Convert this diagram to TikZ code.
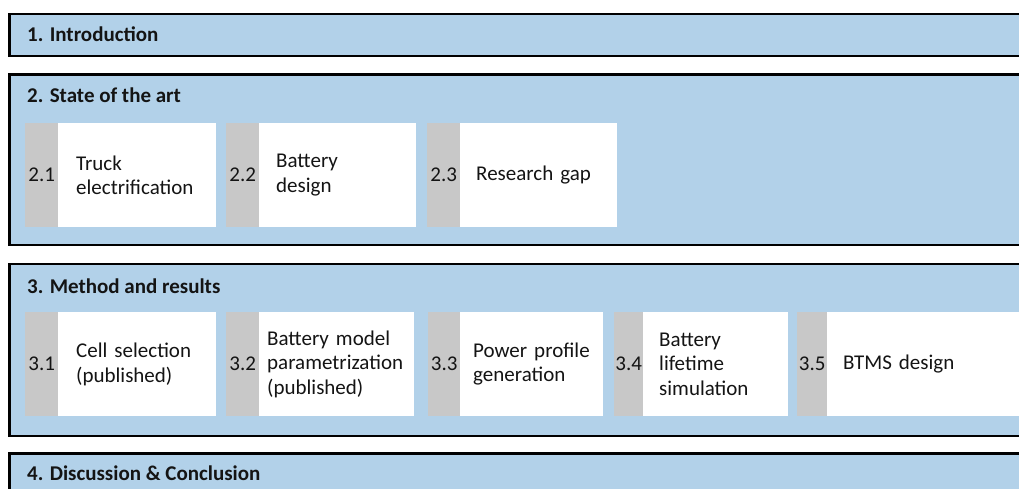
\documentclass[tikz,border=0pt]{standalone}
\usepackage{fontspec}
\setmainfont{Carlito}
\definecolor{panelblue}{RGB}{178,209,233}
\definecolor{numgray}{RGB}{200,200,200}
\definecolor{txtblack}{RGB}{20,20,20}
\tikzset{
  panel/.style={fill=panelblue, draw=black, line width=2.4pt},
  ptitle/.style={anchor=base west, inner sep=0pt, text=txtblack, font=\fontsize{21}{24.5}\selectfont\bfseries},
  numbox/.style={anchor=north west, fill=numgray, minimum height=104pt, inner sep=0pt, text=txtblack, font=\fontsize{21}{24.5}\selectfont},
  txtbox/.style 2 args={anchor=north west, fill=white, minimum height=104pt, inner ysep=0pt, inner xsep=#2, text width={#1-2*#2}, align=left, text=txtblack, font=\fontsize{21}{24.5}\selectfont}
}
\begin{document}
\begin{tikzpicture}[x=1pt,y=-1pt]
\clip (0,0) rectangle (1019,489);
\fill[white] (0,0) rectangle (1019,489);
% panels
\draw[panel] (9.5,14) rectangle (1040,56);
\draw[panel] (9.5,74.5) rectangle (1040,245);
\draw[panel] (9.5,264) rectangle (1040,436);
\draw[panel] (9.5,453.5) rectangle (1040,520);
\node[ptitle] (p1) at (27,41.5) {1. Introduction};
\node[ptitle] (p2) at (27,102.5) {2. State of the art};
\node[ptitle] (p3) at (27,293.5) {3. Method and results};
\node[ptitle] (p4) at (27,480) {4. Discussion \& Conclusion};
% section 2 boxes
\node[numbox, minimum width=33pt] (n21) at (25,123) {2.1};
\node[txtbox={158pt}{18pt}] (t21) at (58,123) {Truck\\electrification};
\node[numbox, minimum width=33pt] (n22) at (226,123) {2.2};
\node[txtbox={157pt}{17pt}] (t22) at (259,123) {Battery\\design};
\node[numbox, minimum width=33pt] (n23) at (427,123) {2.3};
\node[txtbox={157pt}{16pt}] (t23) at (460,123) {Research gap};
% section 3 boxes
\node[numbox, minimum width=33pt] (n31) at (25,312) {3.1};
\node[txtbox={158pt}{18pt}] (t31) at (58,312) {Cell selection\\(published)};
\node[numbox, minimum width=33pt] (n32) at (226,312) {3.2};
\node[txtbox={155pt}{8pt}] (t32) at (259,312) {Battery model\\parametrization\\(published)};
\node[numbox, minimum width=32pt] (n33) at (428,312) {3.3};
\node[txtbox={143pt}{13pt}] (t33) at (460,312) {Power profile\\generation};
\node[numbox, minimum width=29pt] (n34) at (614,312) {3.4};
\node[txtbox={145pt}{16pt}] (t34) at (643,312) {Battery\\lifetime\\simulation};
\node[numbox, minimum width=30pt] (n35) at (797,312) {3.5};
\node[txtbox={220pt}{16pt}] (t35) at (827,312) {BTMS design};
\end{tikzpicture}
\end{document}
